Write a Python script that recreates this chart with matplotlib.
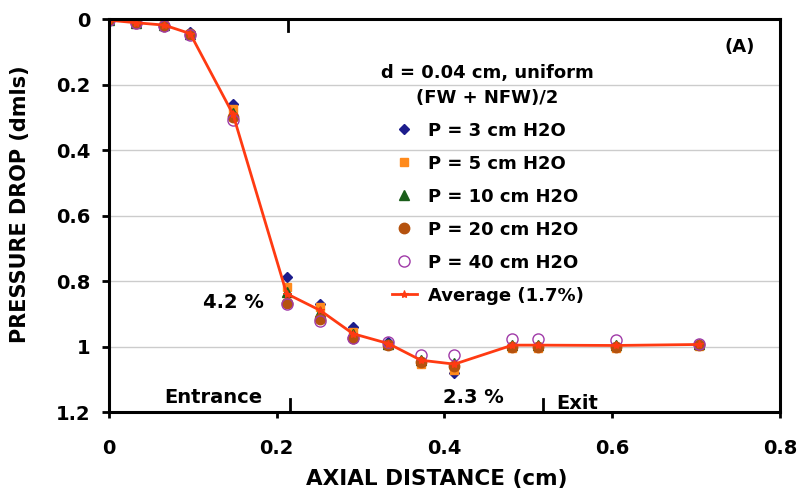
import matplotlib
matplotlib.use("Agg")
import matplotlib.pyplot as plt

# axial positions of the pressure taps (cm)
x_cm = [0.0, 0.033, 0.066, 0.097, 0.148, 0.212, 0.252, 0.291,
        0.333, 0.372, 0.412, 0.481, 0.512, 0.604, 0.703]

# dimensionless pressure drop, one list per driving pressure
p3 = [0.0, 0.010, 0.016, 0.040, 0.260, 0.787, 0.868, 0.941,
      0.985, 1.048, 1.080, 1.000, 1.000, 1.000, 0.995]
p5 = [0.003, 0.012, 0.018, 0.045, 0.275, 0.817, 0.880, 0.955,
      0.995, 1.052, 1.070, 1.005, 1.005, 1.005, 0.998]
p10 = [0.002, 0.011, 0.018, 0.044, 0.285, 0.833, 0.895, 0.960,
       0.990, 1.040, 1.050, 0.995, 0.995, 0.995, 0.992]
p20 = [0.004, 0.012, 0.020, 0.046, 0.300, 0.865, 0.915, 0.972,
       0.995, 1.045, 1.058, 1.000, 1.000, 1.000, 0.995]
p40 = [0.004, 0.013, 0.021, 0.047, 0.308, 0.870, 0.920, 0.972,
       0.985, 1.026, 1.026, 0.975, 0.975, 0.980, 0.990]
average = [0.003, 0.011, 0.018, 0.044, 0.290, 0.838, 0.889, 0.960,
           0.990, 1.041, 1.053, 0.995, 0.995, 0.996, 0.993]

series_labels = ["P = 3 cm H2O", "P = 5 cm H2O", "P = 10 cm H2O",
                 "P = 20 cm H2O", "P = 40 cm H2O"]
avg_label = "Average (1.7%)"
x_ticks = [0, 0.2, 0.4, 0.6, 0.8]
x_tick_labels = ["0", "0.2", "0.4", "0.6", "0.8"]
y_ticks = [0, 0.2, 0.4, 0.6, 0.8, 1.0, 1.2]
y_tick_labels = ["0", "0.2", "0.4", "0.6", "0.8", "1", "1.2"]

plt.rcParams["font.family"] = "DejaVu Sans"
plt.rcParams["font.weight"] = "bold"
plt.rcParams["axes.labelweight"] = "bold"

fig = plt.figure(figsize=(8, 4.92), dpi=100)
ax = fig.add_axes([0.136, 0.162, 0.839, 0.799])

ax.plot(x_cm, p3, ls="none", marker="D", ms=5.5, color="#1c1c8c", label=series_labels[0])
ax.plot(x_cm, p5, ls="none", marker="s", ms=5.5, color="#ff8a1c", label=series_labels[1])
ax.plot(x_cm, p10, ls="none", marker="^", ms=6.5, color="#1b5e1b", label=series_labels[2])
ax.plot(x_cm, p20, ls="none", marker="o", ms=7.5, color="#b5520e", label=series_labels[3])
ax.plot(x_cm, p40, ls="none", marker="o", ms=8, mfc="none", mec="#a03aa8",
        mew=1.0, label=series_labels[4])
ax.plot(x_cm, average, color="#ff3a12", lw=2, marker="*", ms=6, mew=0.8,
        label=avg_label)

ax.set_xlim(0, 0.8)
ax.set_ylim(1.2, 0)
ax.set_xticks(x_ticks)
ax.set_xticklabels(x_tick_labels, fontsize=14)
ax.set_yticks(y_ticks)
ax.set_yticklabels(y_tick_labels, fontsize=14)
ax.tick_params(axis="x", direction="out", length=4.5, width=2, pad=15)
ax.tick_params(axis="y", direction="out", length=5, width=2, pad=8)
ax.yaxis.grid(True, color="#cccccc", lw=1)
ax.set_axisbelow(True)
for s in ax.spines.values():
    s.set_linewidth(2.2)

ax.set_xlabel("AXIAL DISTANCE (cm)", fontsize=15.5)
ax.xaxis.set_label_coords(0.488, -0.145)
ax.set_ylabel("PRESSURE DROP (dmls)", fontsize=15)
ax.yaxis.set_label_coords(-0.118, 0.53)

# section markers for the entrance / exit regions
ax.axvline(0.213, ymin=0.97, ymax=1.0, color="black", lw=2)
ax.axvline(0.216, ymin=0.0, ymax=0.035, color="black", lw=2)
ax.axvline(0.518, ymin=0.0, ymax=0.035, color="black", lw=2)

ax.text(0.125, 1.155, "Entrance", fontsize=14, ha="center", va="center")
ax.text(0.558, 1.172, "Exit", fontsize=14, ha="center", va="center")
ax.text(0.434, 1.155, "2.3 %", fontsize=14, ha="center", va="center")
ax.text(0.148, 0.866, "4.2 %", fontsize=14, ha="center", va="center")
ax.text(0.752, 0.085, "(A)", fontsize=13, ha="center", va="center")

leg = ax.legend(loc="upper left", bbox_to_anchor=(0.395, 0.905), frameon=False,
                title="d = 0.04 cm, uniform\n(FW + NFW)/2",
                prop={"size": 13, "weight": "bold"}, labelspacing=0.83,
                handlelength=1.4, handletextpad=0.6, borderaxespad=0)
leg.get_title().set_fontsize(13)
leg.get_title().set_fontweight("bold")
leg.get_title().set_multialignment("center")
leg.get_title().set_linespacing(1.5)

fig.savefig("out.png", dpi=100)
